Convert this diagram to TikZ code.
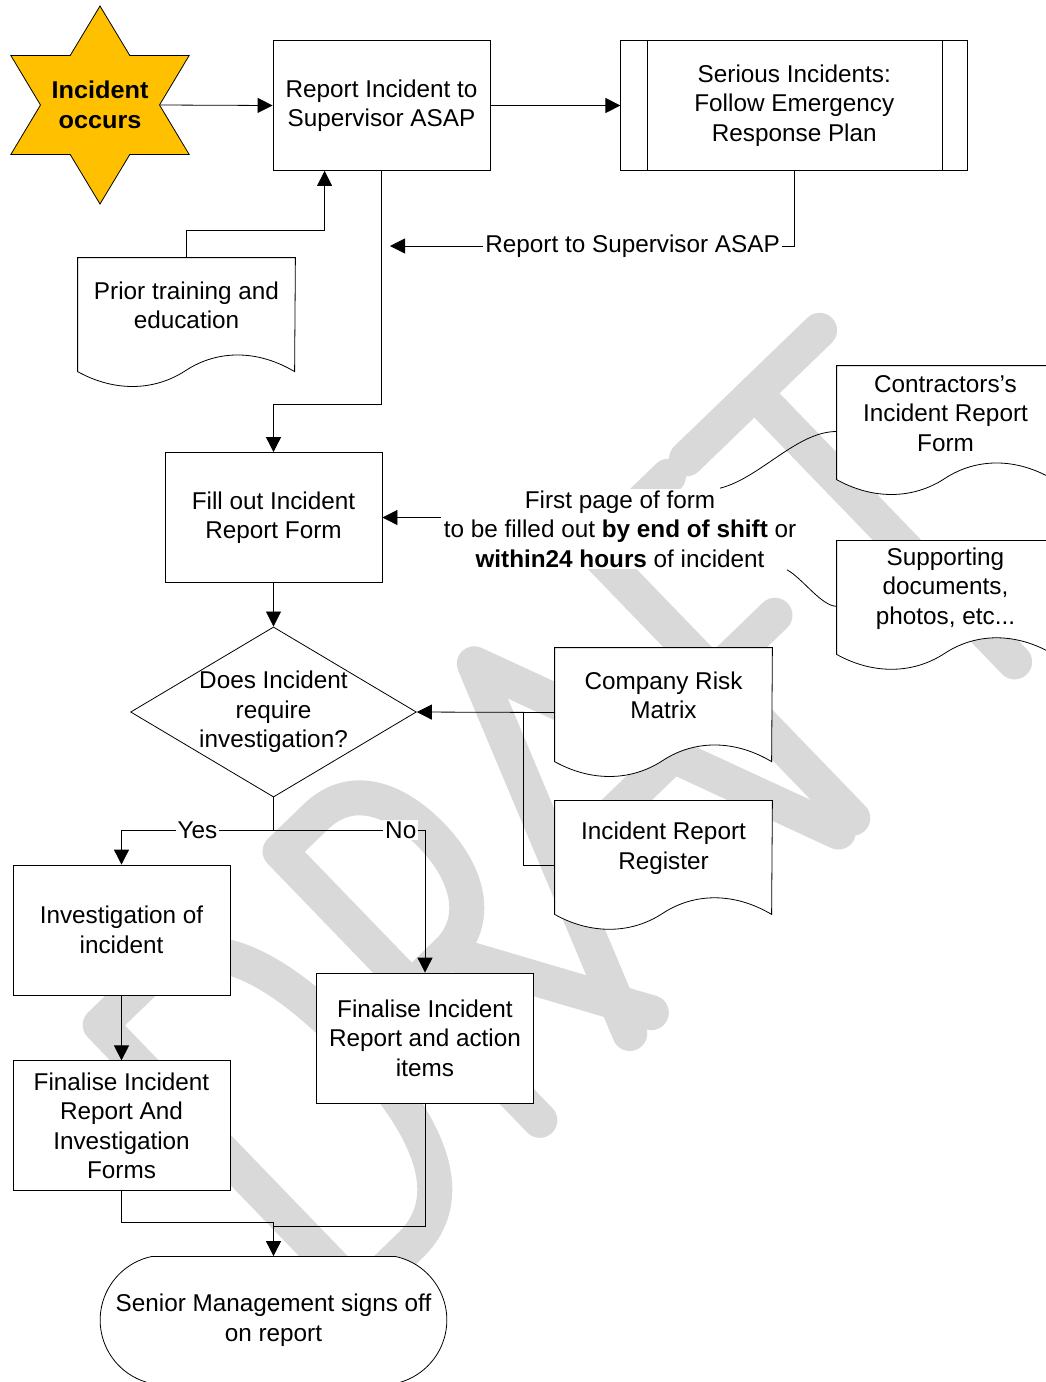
\documentclass[tikz,border=0pt]{standalone}
\usepackage{fontspec}
\setmainfont{Liberation Sans}
\usetikzlibrary{positioning, arrows.meta, shapes.geometric, shapes.misc}

\definecolor{starfill}{HTML}{FFC000}

\pgfdeclarelayer{watermark}
\pgfdeclarelayer{back}
\pgfsetlayers{watermark,back,main}

\tikzset{
	box/.style     = {draw, fill=white, minimum width=108.5pt, minimum height=65pt, align=center, inner sep=0pt},
	docbox/.style  = {minimum width=108.5pt, minimum height=47.5pt, align=center, inner sep=0pt},
	arr/.style     = {-{Triangle[length=7.5pt, width=7.5pt]}},
	lbl/.style     = {fill=white, inner sep=1pt},
}

% outline of a document symbol round a docbox node
\newcommand{\docoutline}[1]{%
	\begin{pgfonlayer}{back}
		\draw[fill=white] (#1.north west) -- (#1.north east) -- ([shift={(217,114)}]#1.north west)
			.. controls ([shift={(180,92)}]#1.north west) and ([shift={(140,92)}]#1.north west) .. ([shift={(108,113)}]#1.north west)
			.. controls ([shift={(76,134)}]#1.north west) and ([shift={(36,134)}]#1.north west) .. ([shift={(0,114)}]#1.north west)
			-- cycle;
	\end{pgfonlayer}}

\begin{document}
\begin{tikzpicture}[x=0.5pt, y=-0.5pt, line width=0.5pt, font=\fontsize{12.15}{14.75}\selectfont]
	\useasboundingbox (0,0) rectangle (1045,1382);

	% watermark
	\begin{pgfonlayer}{watermark}
		\begin{scope}[shift={(360,1294)}, rotate=44, yscale=-1, color=black!15, line width=17.5pt, line cap=round, line join=round]
			\draw (0,0) -- (0,374) -- (70,374) .. controls (140,374) and (168,300) .. (168,187)
				.. controls (168,74) and (140,0) .. (70,0) -- cycle;
			\draw (250,0) -- (250,374) -- (300,374) .. controls (350,374) and (370,330) .. (370,280)
				.. controls (370,225) and (345,185) .. (300,185) -- (250,185);
			\draw (300,185) -- (405,0);
			\draw (375,0) -- (520,374) -- (665,0);
			\draw (441,170) -- (599,170);
			\draw (685,0) -- (685,374) -- (790,374);
			\draw (685,200) -- (770,200);
			\draw (815,374) -- (1000,374);
			\draw (910,374) -- (910,0);
		\end{scope}
	\end{pgfonlayer}

	\node (incident) [star, star points=6, star point ratio=1.73, draw, fill=starfill, minimum size=99pt,
		inner sep=0pt, xscale=1.04, align=center, font=\fontsize{12.15}{14.75}\selectfont\bfseries] at (100,105)
		{\makebox[0pt]{Incident}\\\makebox[0pt]{occurs}};
	\node (report)   [box] at (381.5,105.5)                   {Report Incident to\\Supervisor ASAP};
	\node (serious)  [box, minimum width=173.5pt, right = 65pt of report] {Serious Incidents:\\Follow Emergency\\Response Plan};
	\draw ([xshift=13.5pt]serious.north west) -- ([xshift=13.5pt]serious.south west);
	\draw ([xshift=-13pt]serious.north east) -- ([xshift=-13pt]serious.south east);

	\node (prior)    [docbox] at (186.5,305.5)                {Prior training and\\education};
	\node (fillout)  [box] at (273.5,517.5)                   {Fill out Incident\\Report Form};
	\node (note)     [lbl, align=center] at (620,529)         {First page of form\\to be filled out \textbf{by end of shift} or\\\textbf{within24 hours} of incident};
	\node (contract) [docbox] at (945.5,413.5)                {Contractors’s\\Incident Report\\Form};
	\node (support)  [docbox, below = 39.5pt of contract]     {Supporting\\documents,\\photos, etc...};

	\node (decide)   [diamond, draw, fill=white, aspect=1.68, inner sep=0pt, align=center] at (273.5,712) {Does Incident\\require\\investigation?};
	\node (riskmatrix) [docbox] at (663.5,695.5)              {Company Risk\\Matrix};
	\node (register) [docbox, below = 28.5pt of riskmatrix]   {Incident Report\\Register};

	\node (investigation) [box] at (121.5,930)                {Investigation of\\incident};
	\node (finaliseinv)   [box, below = 32.5pt of investigation] {Finalise Incident\\Report And\\Investigation\\Forms};
	\node (finaliseact)   [box] at (425,1038)                 {Finalise Incident\\Report and action\\items};
	\node (signoff)  [rounded rectangle, rounded rectangle arc length=156, draw, fill=white,
		minimum width=180pt, minimum height=63.5pt, align=center] at (273.5,1320) {Senior Management signs off\\on report};

	\docoutline{prior}
	\docoutline{contract}
	\docoutline{support}
	\docoutline{riskmatrix}
	\docoutline{register}

	\coordinate (reportback) at (390,246);
	\coordinate (branch)     at (273.5,830);
	\coordinate (merge)      at (523,712.5);
	\coordinate (joinA)      at (273.5,1222);
	\coordinate (joinB)      at (273.5,1226);

	\draw[arr] (incident.east) -- (report.west);
	\draw[arr] (report.east) -- (serious.west);
	\draw[arr] (serious.south) |- (reportback) node[lbl, pos=0.7] {Report to Supervisor ASAP};
	\draw[arr] (prior.north) -- ++(0,-27) -| ([xshift=26pt]report.south west);
	\draw[arr] (report.south) -- ++(0,233) -| (fillout.north);
	\draw[arr] (note.west |- fillout.east) -- (fillout.east);
	\draw ([xshift=50pt]note.north) .. controls +(40,-10) and +(-40,0) .. ([yshift=-9pt]contract.west);
	\draw ([xshift=83.5pt]note.south) .. controls +(15,8) and +(-15,0) .. ([yshift=-9pt]support.west);
	\draw[arr] (fillout) -- (decide);
	\draw[arr] ([yshift=-8.5pt]riskmatrix.west) -- (decide.east);
	\draw ([yshift=-8.5pt]register.west) -| (merge);
	\draw (decide.south) -- (branch);
	\draw[arr] (branch) -| node[lbl, pos=0.25] {Yes} (investigation.north);
	\draw[arr] (branch) -| node[lbl, pos=0.42] {No} (finaliseact.north);
	\draw[arr] (investigation) -- (finaliseinv);
	\draw (finaliseinv.south) |- (joinA);
	\draw (finaliseact.south) |- (joinB);
	\draw[arr] (joinA) -- (signoff.north);

\end{tikzpicture}
\end{document}
